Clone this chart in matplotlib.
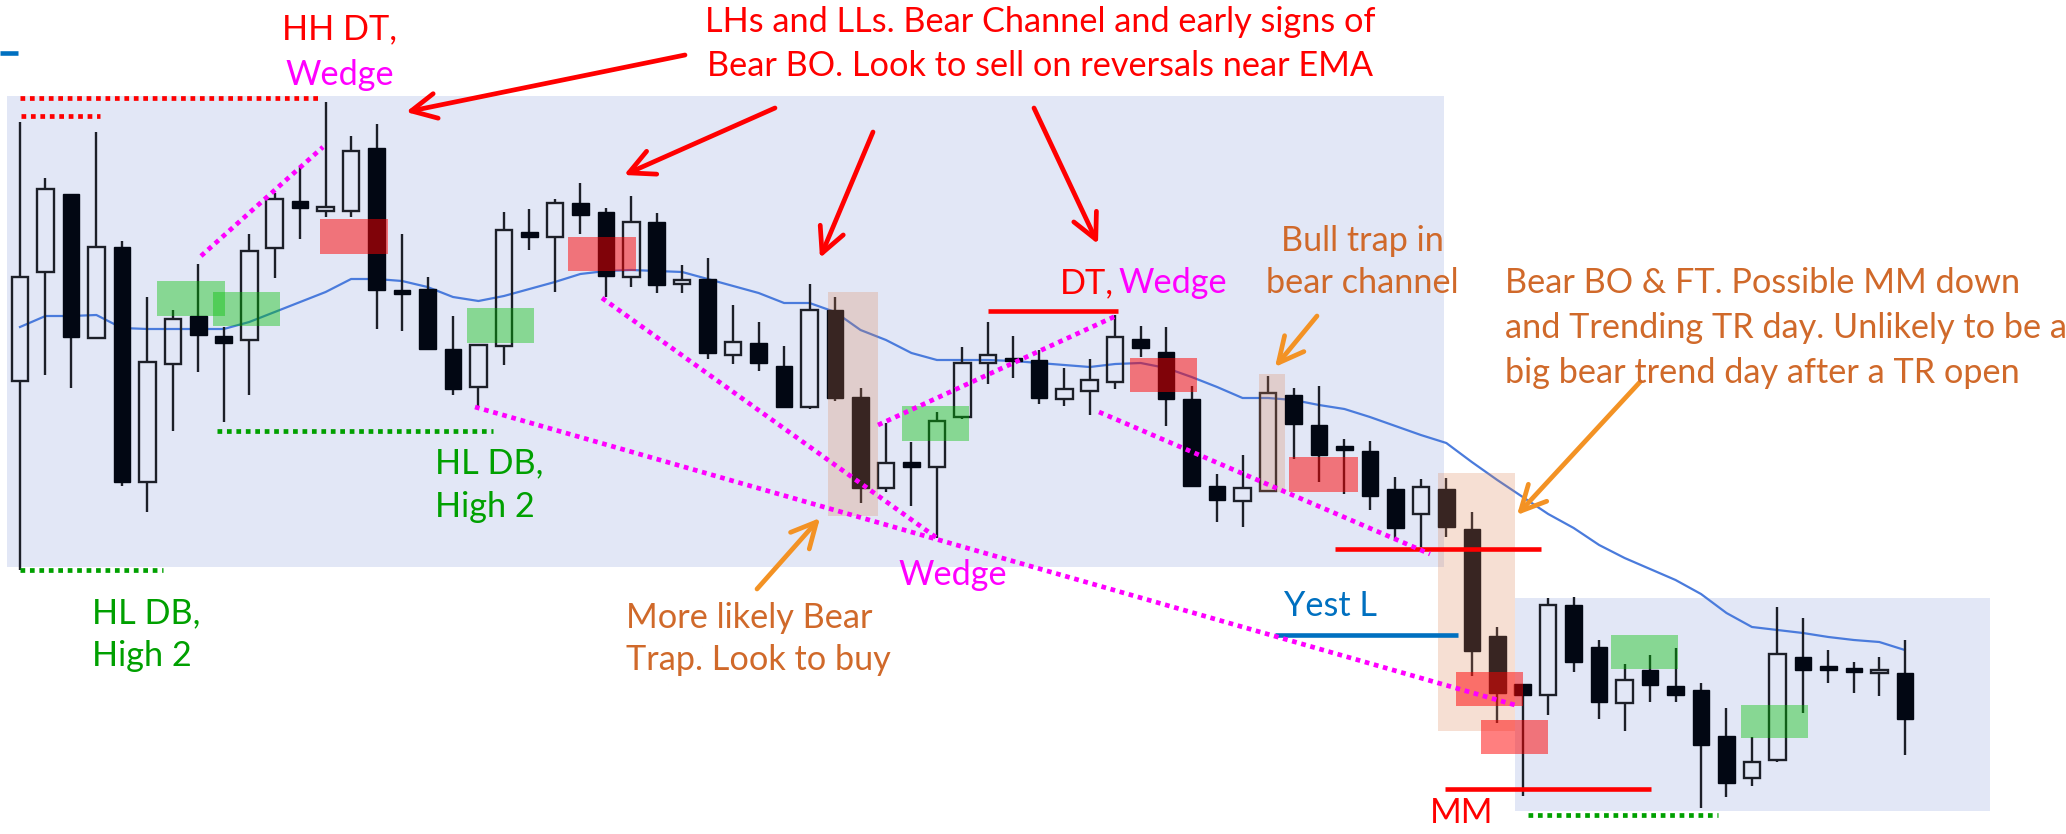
import matplotlib.pyplot as plt
from matplotlib.patches import Rectangle
from matplotlib.transforms import Affine2D

# OHLC of the 75 bars (arbitrary price units)
opens = [453, 562, 640, 496, 587, 352, 470, 518, 498, 494,
         586, 633, 623, 623, 686, 543, 545, 485, 447, 488,
         602, 597, 631, 622, 557, 612, 550, 555, 479, 491,
         468, 427, 524, 437, 346, 372, 367, 417, 471, 476,
         474, 435, 443, 452, 495, 482, 435, 348, 333, 343,
         439, 409, 387, 383, 345, 320, 345, 305, 198, 150,
         139, 229, 187, 131, 164, 148, 144, 98, 56, 74,
         177, 167, 165, 161, 161]
highs = [712, 656, 640, 702, 593, 537, 524, 570, 507, 600,
         641, 667, 732, 698, 710, 600, 557, 518, 489, 622,
         625, 635, 651, 626, 638, 621, 569, 576, 529, 512,
         488, 550, 537, 446, 411, 392, 422, 487, 512, 498,
         484, 466, 475, 519, 508, 507, 448, 360, 379, 458,
         446, 448, 395, 393, 357, 355, 356, 322, 207, 150,
         236, 237, 194, 170, 179, 186, 151, 126, 97, 227,
         216, 184, 172, 177, 194]
lows = [264, 459, 446, 495, 348, 322, 403, 462, 412, 439,
        556, 595, 617, 617, 505, 503, 484, 439, 428, 469,
        584, 542, 600, 537, 547, 541, 541, 475, 470, 463,
        426, 425, 433, 331, 342, 328, 296, 415, 450, 456,
        430, 428, 419, 445, 477, 408, 348, 312, 307, 342,
        375, 352, 340, 324, 294, 287, 297, 158, 111, 38,
        119, 162, 115, 103, 132, 132, 26, 37, 48, 72,
        121, 151, 141, 138, 79]
closes = [557, 645, 497, 587, 352, 472, 515, 499, 491, 583,
          635, 626, 627, 683, 544, 541, 485, 445, 489, 604,
          597, 631, 619, 558, 612, 549, 554, 481, 492, 471,
          427, 524, 436, 346, 371, 367, 413, 471, 479, 473,
          436, 445, 454, 497, 486, 435, 348, 334, 346, 441,
          410, 379, 385, 338, 306, 347, 307, 183, 141, 139,
          229, 172, 132, 154, 149, 139, 89, 51, 72, 180,
          164, 165, 163, 164, 115]
ema = [507, 518, 518, 519, 506, 505, 505, 505, 505, 512,
       522, 532, 542, 555, 555, 553, 547, 537, 533, 538,
       545, 552, 560, 563, 564, 563, 562, 555, 548, 541,
       531, 531, 522, 504, 494, 481, 474, 474, 474, 473,
       471, 469, 467, 470, 471, 466, 457, 447, 436, 436,
       434, 429, 425, 417, 408, 399, 391, 372, 354, 337,
       320, 306, 289, 276, 265, 254, 240, 221, 207, 204,
       201, 197, 194, 192, 184]

plt.rcParams['font.family'] = ['Lato', 'DejaVu Sans']

W, H = 2066, 834
fig = plt.figure(figsize=(W / 100, H / 100), dpi=100)
ax = fig.add_axes([0, 0, 1, 1])
ax.set_xlim(-20 / 25.47, (W - 20) / 25.47)
ax.set_ylim(0, H)
ax.axis('off')

# pixel coordinates (origin top-left) for the hand-drawn annotations
pix = Affine2D().scale(1 / W, -1 / H).translate(0, 1) + fig.transFigure

RED = '#ff0000'
MAG = '#ff00ff'
GRN = '#00a000'
ORG = '#d0692a'
ARW = '#f39224'
BLU = '#0070c0'


def box(x0, y0, x1, y1, color, alpha=1.0, z=0):
    ax.add_patch(Rectangle((x0, y0), x1 - x0, y1 - y0, transform=pix,
                           facecolor=color, edgecolor='none', alpha=alpha, zorder=z))


def seg(x0, y0, x1, y1, color, lw=3.0, dotted=False, z=5):
    ls = (0, (1, 1)) if dotted else '-'
    ax.plot([x0, x1], [y0, y1], transform=pix, color=color, lw=lw, ls=ls,
            dash_capstyle='butt', solid_capstyle='butt', zorder=z)


def arrow(x0, y0, x1, y1, color):
    ax.annotate('', xy=(x1, y1), xytext=(x0, y0), xycoords=pix, textcoords=pix,
                arrowprops=dict(arrowstyle='->,head_length=0.9,head_width=0.45',
                                color=color, lw=3.4, mutation_scale=20,
                                shrinkA=0, shrinkB=0), zorder=6)


def label(x, y, s, color, ha='left'):
    ax.text(x, y, s, transform=pix, color=color, fontsize=24.7, ha=ha, va='center', zorder=7)


# trading range backgrounds
box(7, 96, 1444, 567, '#e2e7f6')
box(1515, 598, 1990, 811, '#e2e7f6')

# EMA
ax.plot(range(len(ema)), ema, color='#4a7bdc', lw=1.6, zorder=2)

# candles
body_w = 0.65
for i, (o, h, l, c) in enumerate(zip(opens, highs, lows, closes)):
    top, bot = max(o, c), min(o, c)
    if top - bot < 3:
        top, bot = top + 1, bot - 1
    ax.plot([i, i], [top, h], color='#1c1f28', lw=1.7, solid_capstyle='butt', zorder=3)
    ax.plot([i, i], [l, bot], color='#1c1f28', lw=1.7, solid_capstyle='butt', zorder=3)
    if c > o:
        ax.add_patch(Rectangle((i - body_w / 2, bot), body_w, top - bot, facecolor='none',
                               edgecolor='#1c1f28', lw=1.7, zorder=3))
    else:
        ax.add_patch(Rectangle((i - body_w / 2, bot), body_w, top - bot, facecolor='#020713',
                               edgecolor='#020713', lw=1.0, zorder=3))

# highlighted bars
for x0, y0, x1, y1 in [(828, 292, 878, 516), (1259, 374, 1285, 492), (1438, 473, 1515, 731)]:
    box(x0, y0, x1, y1, '#dc8250', alpha=0.25, z=4)

# buy zones
for x0, y0, x1, y1 in [(157, 281, 225, 316), (213, 292, 280, 326), (467, 308, 534, 343),
                       (902, 406, 969, 441), (1611, 635, 1678, 669), (1741, 705, 1808, 738)]:
    box(x0, y0, x1, y1, '#00c000', alpha=0.4, z=4)

# sell zones
for x0, y0, x1, y1 in [(320, 219, 388, 254), (568, 237, 636, 271), (1130, 358, 1197, 392),
                       (1289, 457, 1358, 492), (1456, 672, 1523, 706), (1481, 720, 1548, 754)]:
    box(x0, y0, x1, y1, '#ff0000', alpha=0.5, z=4)

# levels
seg(20, 98, 322, 98, RED, lw=3.4, dotted=True)
seg(21, 116, 100, 116, RED, lw=3.4, dotted=True)
seg(217, 431, 493, 431, GRN, lw=3.4, dotted=True)
seg(20, 570, 163, 570, GRN, lw=3.4, dotted=True)
seg(1528, 815, 1718, 815, GRN, lw=3.4, dotted=True)
seg(988, 311, 1118, 311, RED, lw=3.3)
seg(1335, 549, 1541, 549, RED, lw=3.3)
seg(1445, 789, 1651, 789, RED, lw=3.3)
seg(1275, 635, 1458, 635, BLU, lw=3.3)
seg(0, 53, 18, 53, BLU, lw=3.3)

# wedges / channel lines
seg(201, 256, 323, 147, MAG, lw=3.4, dotted=True)
seg(475, 407, 1515, 705, MAG, lw=3.4, dotted=True)
seg(602, 298, 937, 538, MAG, lw=3.4, dotted=True)
seg(878, 425, 1118, 315, MAG, lw=3.4, dotted=True)
seg(1099, 412, 1430, 554, MAG, lw=3.4, dotted=True)

# arrows
arrow(685, 55, 406, 112, RED)
arrow(775, 108, 624, 175, RED)
arrow(873, 132, 820, 258, RED)
arrow(1034, 108, 1098, 244, RED)
arrow(757, 589, 820, 518, ARW)
arrow(1317, 316, 1275, 367, ARW)
arrow(1640, 382, 1517, 515, ARW)

# text
label(340, 29, 'HH DT,', RED, 'center')
label(340, 75, 'Wedge', MAG, 'center')
label(1040, 22, 'LHs and LLs. Bear Channel and early signs of', RED, 'center')
label(1040, 66, 'Bear BO. Look to sell on reversals near EMA', RED, 'center')
label(1060, 283, 'DT,', RED)
label(1118, 283, 'Wedge', MAG)
label(1362, 241, 'Bull trap in', ORG, 'center')
label(1362, 283, 'bear channel', ORG, 'center')
label(1505, 283, 'Bear BO & FT. Possible MM down', ORG)
label(1505, 328, 'and Trending TR day. Unlikely to be a', ORG)
label(1505, 373, 'big bear trend day after a TR open', ORG)
label(435, 463, 'HL DB,', GRN)
label(435, 507, 'High 2', GRN)
label(92, 613, 'HL DB,', GRN)
label(92, 656, 'High 2', GRN)
label(953, 575, 'Wedge', MAG, 'center')
label(626, 618, 'More likely Bear', ORG)
label(626, 660, 'Trap. Look to buy', ORG)
label(1331, 606, 'Yest L', BLU, 'center')
label(1462, 813, 'MM', RED, 'center')

fig.savefig('out.png', dpi=100)
